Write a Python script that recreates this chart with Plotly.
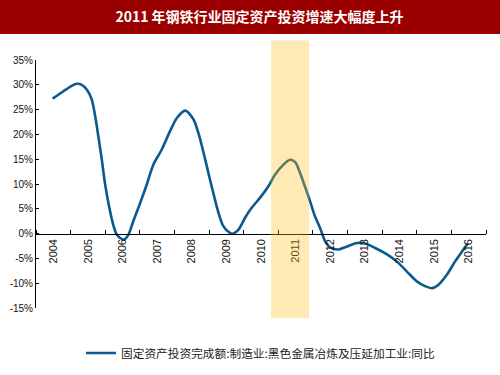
import plotly.graph_objects as go
from datetime import datetime

# ---- data (x as decimal year, y as YoY %) ----
x_year = [2004.48, 2004.79, 2005.03, 2005.18, 2005.32, 2005.47, 2005.61, 2005.71, 2005.80, 2005.90,
          2005.99, 2006.09, 2006.19, 2006.31, 2006.43, 2006.54, 2006.67, 2006.81, 2007.01, 2007.20,
          2007.39, 2007.63, 2007.87, 2008.07, 2008.31, 2008.55, 2008.69, 2008.84, 2008.98, 2009.12,
          2009.27, 2009.41, 2009.61, 2009.70, 2009.85, 2010.04, 2010.23, 2010.47, 2010.71, 2010.91,
          2011.15, 2011.34, 2011.49, 2011.63, 2011.77, 2011.92, 2012.06, 2012.21, 2012.35, 2012.50,
          2012.74, 2012.98, 2013.27, 2013.51, 2013.80, 2014.14, 2014.42, 2014.71, 2015.00, 2015.24,
          2015.44, 2015.63, 2015.87, 2016.11, 2016.35, 2016.47]
yoy = [27.2, 28.7, 29.8, 30.2, 30.0, 29.0, 27.0, 23.6, 19.6, 14.9,
       10.2, 6.2, 2.9, 0.1, -0.9, -1.2, -0.2, 2.5, 6.2, 9.9,
       13.9, 16.9, 20.6, 23.3, 24.8, 23.0, 20.3, 16.3, 12.2, 8.2,
       4.2, 1.5, 0.1, 0.0, 0.8, 3.2, 5.2, 7.2, 9.5, 11.9,
       13.9, 14.9, 14.4, 12.2, 9.5, 6.5, 3.5, 1.1, -1.5, -2.8,
       -3.2, -2.6, -1.9, -2.0, -2.9, -4.2, -5.6, -7.6, -9.6, -10.6,
       -11.0, -10.3, -8.3, -5.6, -3.2, -2.0]
series_name = "固定资产投资完成额:制造业:黑色金属冶炼及压延加工业:同比"
title_text = "2011 年钢铁行业固定资产投资增速大幅度上升"
highlight_years = [2010.79, 2011.89]
year_range = [2004, 2017]
y_ticks = [-15, -10, -5, 0, 5, 10, 15, 20, 25, 30, 35]


def to_date(yr):
    y = int(yr)
    start = datetime(y, 1, 1)
    end = datetime(y + 1, 1, 1)
    return (start + (end - start) * (yr - y)).strftime("%Y-%m-%d %H:%M")


# ---- layout geometry ----
W, H = 500, 375
ML, MR, MT, MB = 36, 14, 60, 67
PW, PH = W - ML - MR, H - MT - MB
ymin, ymax = -15, 35


def px_to_paper_x(px):
    return (px - ML) / PW


def px_to_paper_y(py):
    return (H - MB - py) / PH


fig = go.Figure()
fig.add_trace(go.Scatter(
    x=[to_date(v) for v in x_year], y=yoy, mode="lines", name=series_name,
    line=dict(color="#0B5A8E", width=2.6, shape="spline", smoothing=0.8),
))

# highlight band (semi-transparent, drawn over the line)
fig.add_shape(type="rect", xref="x", yref="paper",
              x0=to_date(highlight_years[0]), x1=to_date(highlight_years[1]),
              y0=px_to_paper_y(318), y1=px_to_paper_y(40.5),
              fillcolor="rgba(255,190,30,0.33)", line=dict(width=0), layer="above")

# title bar
fig.add_shape(type="rect", xref="paper", yref="paper",
              x0=px_to_paper_x(0), x1=px_to_paper_x(W),
              y0=px_to_paper_y(34), y1=px_to_paper_y(0),
              fillcolor="#9B0000", line=dict(width=0), layer="below")

fig.update_layout(
    width=W, height=H,
    margin=dict(l=ML, r=MR, t=MT, b=MB, autoexpand=False),
    paper_bgcolor="white", plot_bgcolor="rgba(0,0,0,0)",
    font=dict(family="Liberation Sans, Arial, sans-serif", color="#111111"),
    title=dict(text=title_text, x=259.5 / W, xanchor="center", xref="container",
               y=1 - 17.5 / H, yanchor="middle",
               font=dict(family="Noto Sans CJK SC", size=14, color="white", weight="bold")),
    showlegend=True,
    legend=dict(orientation="h", x=0.499, xanchor="center", y=px_to_paper_y(353), yanchor="middle",
                font=dict(family="Noto Sans CJK SC", size=11.7, color="#222222"),
                bgcolor="rgba(0,0,0,0)"),
    xaxis=dict(type="date", range=[f"{year_range[0]}-01-01", f"{year_range[1]}-01-01"],
               anchor="free", position=(0 - ymin) / (ymax - ymin), automargin=False,
               showline=True, linecolor="#000000", linewidth=1,
               ticks="inside", ticklen=4, tickcolor="#000000",
               dtick="M12", tick0=f"{year_range[0]}-01-01", ticklabelmode="period",
               tickformat="%Y", tickangle=-90,
               tickfont=dict(size=11, color="#111111"),
               showgrid=False, zeroline=False),
    yaxis=dict(range=[ymin, ymax], tickvals=y_ticks, automargin=False,
               ticktext=[f"{v}%" for v in y_ticks],
               showline=True, linecolor="#000000", linewidth=1,
               ticks="inside", ticklen=3, tickcolor="#000000",
               tickfont=dict(size=10, color="#111111"),
               showgrid=False, zeroline=False),
)

fig.write_html("out.html",
               config={"displayModeBar": False},
               post_script="document.body.style.margin='0';document.body.style.padding='0';")
